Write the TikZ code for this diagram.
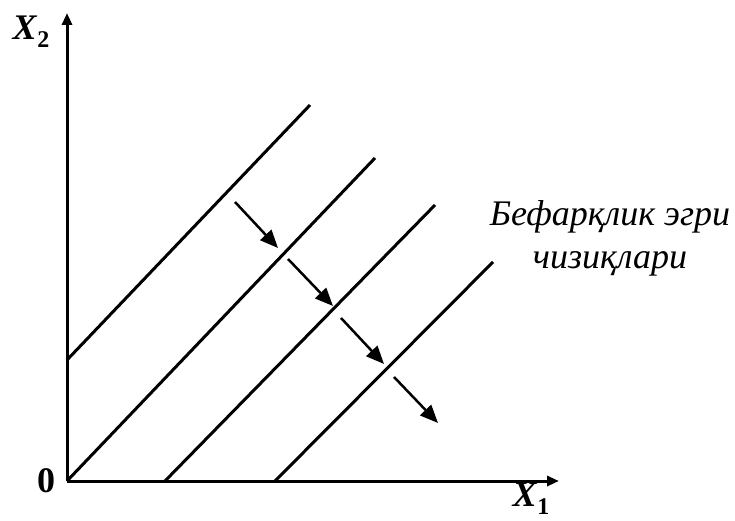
\documentclass[tikz,border=0pt]{standalone}
\usepackage{fontspec}
\setmainfont{Liberation Serif}
\usetikzlibrary{arrows.meta}

\begin{document}
\begin{tikzpicture}[x=1pt, y=-1pt, axis/.style={line width=3pt, -{Triangle[length=12pt,width=10pt]}}, curve/.style={line width=3pt}, shiftarr/.style={line width=2.5pt, -{Triangle[length=18pt,width=15pt]}}, lbl/.style={font=\fontsize{36}{40}\selectfont\bfseries, inner sep=0pt}]
\useasboundingbox (0,0) rectangle (735,521);
% axes
\coordinate (o) at (67,481);
\coordinate (ytop) at (67,13);
\coordinate (xend) at (559,481);
\draw[axis] (o) -- (ytop);
\draw[axis] (o) -- (xend);
\node[lbl, anchor=south] (x2) at (31,48) {\textit{X}\raisebox{-.22em}{\fontsize{24}{24}\selectfont 2}};
\node[lbl, anchor=south] (x1) at (531,515) {\textit{X}\raisebox{-.22em}{\fontsize{24}{24}\selectfont 1}};
\node[lbl] (zero) at (46,481) {0};
% indifference lines
\coordinate (a1) at (67,360);  \coordinate (b1) at (310,105);
\coordinate (a2) at (67,481);  \coordinate (b2) at (375,158);
\coordinate (a3) at (165,481); \coordinate (b3) at (435,205);
\coordinate (a4) at (275,481); \coordinate (b4) at (493,262);
\draw[curve] (a1) -- (b1);
\draw[curve] (a2) -- (b2);
\draw[curve] (a3) -- (b3);
\draw[curve] (a4) -- (b4);
% shift arrows
\coordinate (s1) at (235,202); \coordinate (t1) at (278,248);
\coordinate (s2) at (288,259); \coordinate (t2) at (333,306);
\coordinate (s3) at (341,318); \coordinate (t3) at (384,364);
\coordinate (s4) at (394,377); \coordinate (t4) at (438,423);
\draw[shiftarr] (s1) -- (t1);
\draw[shiftarr] (s2) -- (t2);
\draw[shiftarr] (s3) -- (t3);
\draw[shiftarr] (s4) -- (t4);
\node[align=center, inner sep=0pt, font=\fontsize{36}{43}\selectfont\itshape] (name) at (610,238) {Бефарқлик эгри\\ чизиқлари};
\end{tikzpicture}
\end{document}
